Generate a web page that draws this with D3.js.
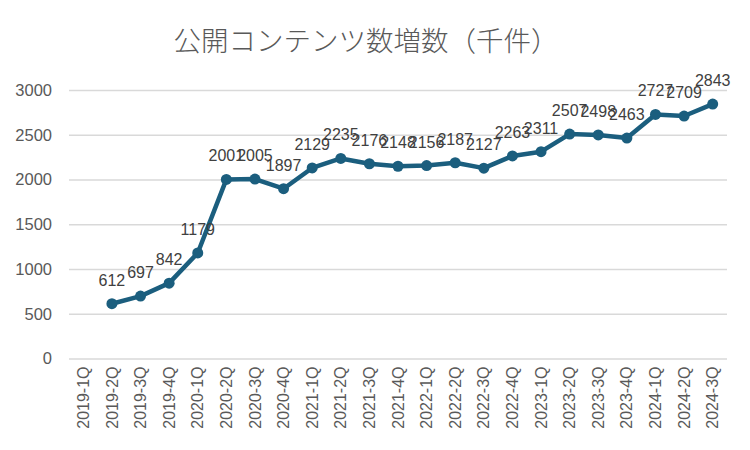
<!DOCTYPE html>
<html lang="ja">
<head>
  <meta charset="utf-8"/>
  <script src="https://d3js.org/d3.v7.min.js"></script>
  <style>
  body{ margin:0; background:#fff; }
  .grid line{ stroke:#d9d9d9; stroke-width:1.5px; }
  .tick text{ fill:#595959; }
  </style>
</head>
<body>
<svg id="chart" width="750" height="450"></svg>
<script>
  const quarters = ["2019-1Q","2019-2Q","2019-3Q","2019-4Q","2020-1Q","2020-2Q","2020-3Q","2020-4Q",
    "2021-1Q","2021-2Q","2021-3Q","2021-4Q","2022-1Q","2022-2Q","2022-3Q","2022-4Q",
    "2023-1Q","2023-2Q","2023-3Q","2023-4Q","2024-1Q","2024-2Q","2024-3Q"];
  const counts = [null,612,697,842,1179,2001,2005,1897,2129,2235,2176,2148,2156,2187,2127,
    2263,2311,2507,2498,2463,2727,2709,2843];
  const yTicks = [0,500,1000,1500,2000,2500,3000];
  const title = "公開コンテンツ数増数（千件）";

  const svg = d3.select("#chart");
  const plotLeft = 69, plotRight = 727, plotTop = 90, plotBottom = 358.5;
  const font = "'Liberation Sans', Arial, sans-serif";

  const data = quarters.map((q,i) => ({q:q, v:counts[i]}));

  const x = d3.scaleBand().domain(quarters).range([plotLeft,plotRight]);
  const y = d3.scaleLinear().domain([0,3000]).range([plotBottom,plotTop]);

  svg.append("text")
    .attr("x",366).attr("y",51)
    .attr("text-anchor","middle")
    .style("font-family","'Noto Sans CJK JP', sans-serif")
    .style("font-weight","300")
    .style("font-size","27.5px")
    .style("fill","#595959")
    .text(title);

  // gridlines + y labels
  const gy = svg.append("g").attr("class","grid")
    .attr("transform","translate("+plotLeft+",0)")
    .call(d3.axisLeft(y).tickValues(yTicks).tickFormat(d3.format("d"))
      .tickSize(-(plotRight-plotLeft)).tickPadding(17));
  gy.select(".domain").remove();
  gy.selectAll("text").style("font-family",font).style("font-size","16.5px");

  // x labels
  const gx = svg.append("g")
    .attr("transform","translate(0,"+plotBottom+")")
    .call(d3.axisBottom(x).tickSize(0));
  gx.select(".domain").remove();
  gx.selectAll("text")
    .style("font-family",font).style("font-size","16px")
    .attr("transform","rotate(-90)")
    .attr("text-anchor","end")
    .attr("x",-8).attr("y",0).attr("dy","0.35em");

  const pts = data.filter(d => d.v != null);
  const cx = d => x(d.q) + x.bandwidth()/2;

  const line = d3.line().x(cx).y(d => y(d.v));
  svg.append("path").datum(pts)
    .attr("d",line)
    .attr("fill","none")
    .attr("stroke","#1b5e7e")
    .attr("stroke-width",4.5)
    .attr("stroke-linejoin","round");

  svg.selectAll("circle.pt").data(pts).enter()
    .append("circle").attr("class","pt")
    .attr("cx",cx).attr("cy",d => y(d.v))
    .attr("r",5.5)
    .attr("fill","#1b5e7e");

  svg.selectAll("text.lbl").data(pts).enter()
    .append("text").attr("class","lbl")
    .attr("x",cx).attr("y",d => y(d.v) - 18)
    .attr("text-anchor","middle")
    .style("font-family",font).style("font-size","16px")
    .style("fill","#404040")
    .text(d => d.v);
</script>
</body>
</html>
